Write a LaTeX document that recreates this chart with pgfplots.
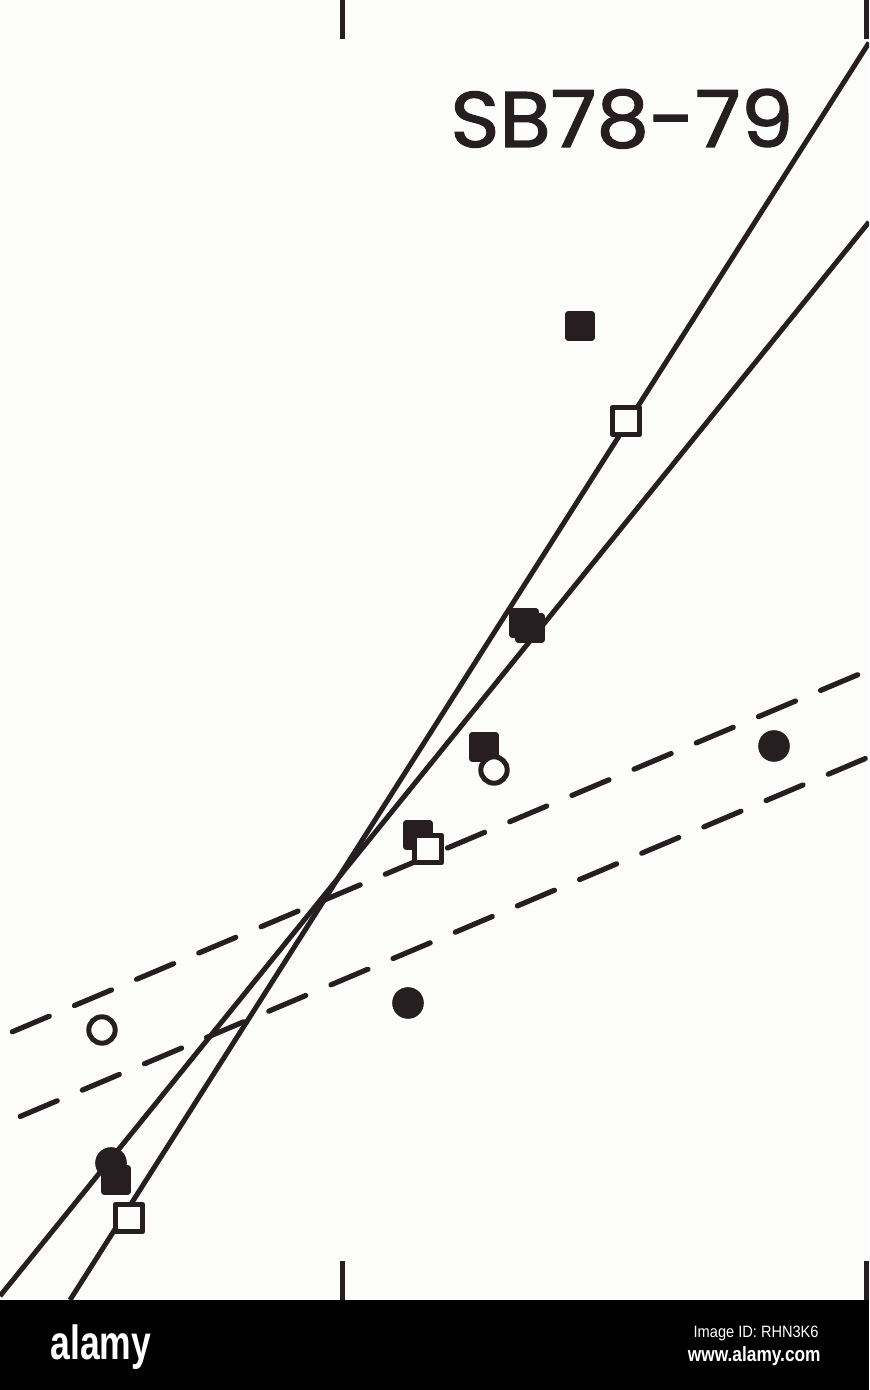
\documentclass[border=0pt]{standalone}
\usepackage{pgfplots}
\pgfplotsset{compat=1.18}
\usepackage{fontspec}
\setmainfont{DejaVu Sans}
\newfontfamily\libsans{Liberation Sans}
\newfontfamily\popp{Poppins}[FakeBold=1.6]
\definecolor{ink}{RGB}{38,30,32}
\definecolor{paper}{RGB}{252,252,250}

\begin{document}
\begin{tikzpicture}[x=1pt,y=1pt]
\fill[paper] (0,45) rectangle (434.5,695);
\fill[black] (0,0) rectangle (434.5,45);
\begin{axis}[
  at={(0pt,45pt)}, anchor=south west,
  width=434.5pt, height=650pt, scale only axis,
  xmin=0, xmax=869, ymin=0, ymax=1300,
  axis line style={draw=none},
  xtick={342,866}, xticklabels={},
  ytick=\empty,
  tick align=inside,
  major tick length=19.5pt,
  major tick style={line width=2.5pt, color=ink},
  clip=true,
]
% solid regression lines
\addplot[ink, line width=2.5pt] coordinates {(70,0) (869,1257.3)};
\addplot[ink, line width=2.5pt] coordinates {(0,4) (869,1078)};
% dashed lines
\addplot[ink, line width=2.6pt, line cap=round, dash pattern=on 20.1pt off 13.65pt, dash phase=27.1pt] coordinates {(0,263) (869,630)};
\addplot[ink, line width=2.6pt, line cap=round, dash pattern=on 20.1pt off 13.65pt, dash phase=22.8pt] coordinates {(0,175) (869,543)};
% filled squares
\addplot[only marks, mark=square*, mark size=5.8pt, mark options={fill=ink, draw=ink, line width=3pt, line join=round}]
  coordinates {(580,974) (524,677) (530,672) (484,553) (418,465) (116,120)};
% filled circles
\addplot[only marks, mark=*, mark size=7.6pt, mark options={fill=ink, draw=ink, line width=0.6pt}]
  coordinates {(774,554) (408,297) (111,137)};
% open circles
\addplot[only marks, mark=*, mark size=6.6pt, mark options={fill=paper, draw=ink, line width=2.5pt}]
  coordinates {(102,270) (494,530)};
% open squares
\addplot[only marks, mark=square*, mark size=6.8pt, mark options={fill=paper, draw=ink, line width=2.5pt, line join=round}]
  coordinates {(626,879) (428,451) (129,82)};
\node[anchor=base west, inner sep=0pt, text=ink, font=\popp] at (axis cs:450,1153) {\resizebox{171.5pt}{29pt}{SB78-79}};
\end{axis}
\node[anchor=base west, inner sep=0pt, text=white, font=\libsans\bfseries\fontsize{24}{24}\selectfont] at (25,15) {\scalebox{0.74}[1]{alamy}};
\node[anchor=base east, inner sep=0pt, text=white, font=\libsans\fontsize{8.2}{8.2}\selectfont] at (409.5,26) {\scalebox{0.89}[1]{Image ID: RHN3K6}};
\node[anchor=base east, inner sep=0pt, text=white, font=\libsans\bfseries\fontsize{10.3}{10.3}\selectfont] at (410.5,14) {\scalebox{0.84}[1]{www.alamy.com}};
\pgfresetboundingbox
\path[use as bounding box] (0,0) rectangle (434.5,695);
\end{tikzpicture}
\end{document}
